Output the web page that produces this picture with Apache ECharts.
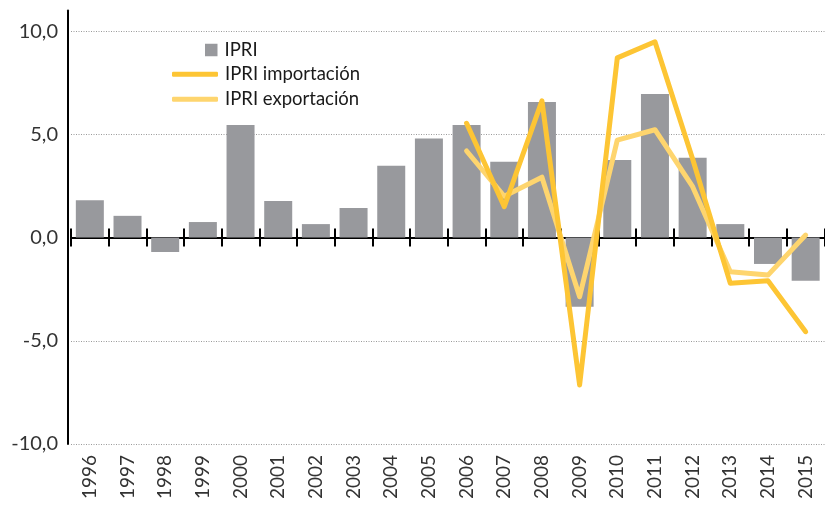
<!DOCTYPE html>
<html>
<head>
<meta charset="utf-8">
<script src="https://cdn.jsdelivr.net/npm/echarts@6/dist/echarts.min.js"></script>
<style>html,body{margin:0;padding:0;background:#fff}#c{width:825px;height:505px}</style>
</head>
<body>
<div id="c"></div>
<script>
var years = ['1996','1997','1998','1999','2000','2001','2002','2003','2004','2005','2006','2007','2008','2009','2010','2011','2012','2013','2014','2015'];
var ipri = [1.8, 1.05, -0.7, 0.75, 5.45, 1.77, 0.65, 1.43, 3.48, 4.8, 5.45, 3.67, 6.56, -3.35, 3.75, 6.95, 3.86, 0.65, -1.28, -2.09];
var ipriImport = [null, null, null, null, null, null, null, null, null, null, 5.53, 1.49, 6.62, -7.14, 8.7, 9.48, 3.8, -2.22, -2.09, -4.56];
var ipriExport = [null, null, null, null, null, null, null, null, null, null, 4.19, 2.0, 2.92, -2.87, 4.72, 5.22, 2.46, -1.66, -1.82, 0.12];
var gridValues = [10, 5, -5, -10];
var yMin = -10, yMax = 11, yStep = 5;

var FONT = 'Lato';
var chart = echarts.init(document.getElementById('c'), null, {renderer: 'canvas'});
chart.setOption({
  animation: false,
  textStyle: {fontFamily: FONT},
  grid: {left: 71, right: 0.5, top: 10.4, bottom: 61, containLabel: false},
  legend: [
    {
      data: ['IPRI'], orient: 'vertical', left: 200, top: 35, padding: 5,
      itemWidth: 12.5, itemHeight: 12.5, icon: 'rect',
      textStyle: {fontFamily: FONT, fontSize: 18.5, color: '#1a1a1a', lineHeight: 20, padding: [0, 0, 0, 2]}
    },
    {
      data: ['IPRI importación', 'IPRI exportación'], orient: 'vertical', left: 167, top: 59.3, padding: 5,
      itemWidth: 46, itemHeight: 5, itemGap: 5, icon: 'roundRect',
      textStyle: {fontFamily: FONT, fontSize: 18.5, color: '#1a1a1a', lineHeight: 20, padding: [0, 0, 0, 2]}
    }
  ],
  xAxis: [
    {
      type: 'category', data: years, position: 'bottom',
      axisLine: {show: false, onZero: false}, axisTick: {show: false},
      axisLabel: {rotate: 90, margin: 11, fontSize: 19, color: '#333', fontFamily: FONT},
      splitLine: {show: false}
    },
    {
      type: 'category', data: years, position: 'bottom',
      axisLine: {show: true, onZero: true, onZeroAxisIndex: 0, lineStyle: {color: '#000', width: 2}},
      axisTick: {show: true, inside: false, length: 9, lineStyle: {color: '#000', width: 2}},
      axisLabel: {show: false}, splitLine: {show: false}
    },
    {
      type: 'category', data: years, position: 'bottom',
      axisLine: {show: false, onZero: true, onZeroAxisIndex: 0},
      axisTick: {show: true, inside: true, length: 9, lineStyle: {color: '#000', width: 2}},
      axisLabel: {show: false}, splitLine: {show: false}
    }
  ],
  yAxis: {
    type: 'value', min: yMin, max: yMax, interval: yStep, offset: 3,
    axisLine: {show: true, lineStyle: {color: '#000', width: 2}},
    axisTick: {show: false},
    splitLine: {show: false},
    axisLabel: {
      margin: 10, fontSize: 20, color: '#333', fontFamily: FONT,
      formatter: function (v) { return (v % 5 === 0) ? v.toFixed(1).replace('.', ',') : ''; }
    }
  },
  series: [
    {
      name: 'grid', type: 'line', data: [], z: 0, silent: true,
      markLine: {
        silent: true, symbol: 'none', label: {show: false}, z: 0,
        lineStyle: {color: '#9a9a9a', type: [1, 1.5], width: 1},
        data: gridValues.map(function (v) { return {yAxis: v}; })
      }
    },
    {
      name: 'IPRI', type: 'bar', data: ipri, barWidth: 28, z: 2,
      itemStyle: {color: '#98999d'}
    },
    {
      name: 'IPRI importación', type: 'line', data: ipriImport, z: 4,
      showSymbol: false, symbol: 'none',
      lineStyle: {color: '#fdc534', width: 5, cap: 'round', join: 'round'},
      itemStyle: {color: '#fdc534'}
    },
    {
      name: 'IPRI exportación', type: 'line', data: ipriExport, z: 3,
      showSymbol: false, symbol: 'none',
      lineStyle: {color: '#fed56e', width: 5, cap: 'round', join: 'round'},
      itemStyle: {color: '#fed56e'}
    }
  ]
});
</script>
</body>
</html>
